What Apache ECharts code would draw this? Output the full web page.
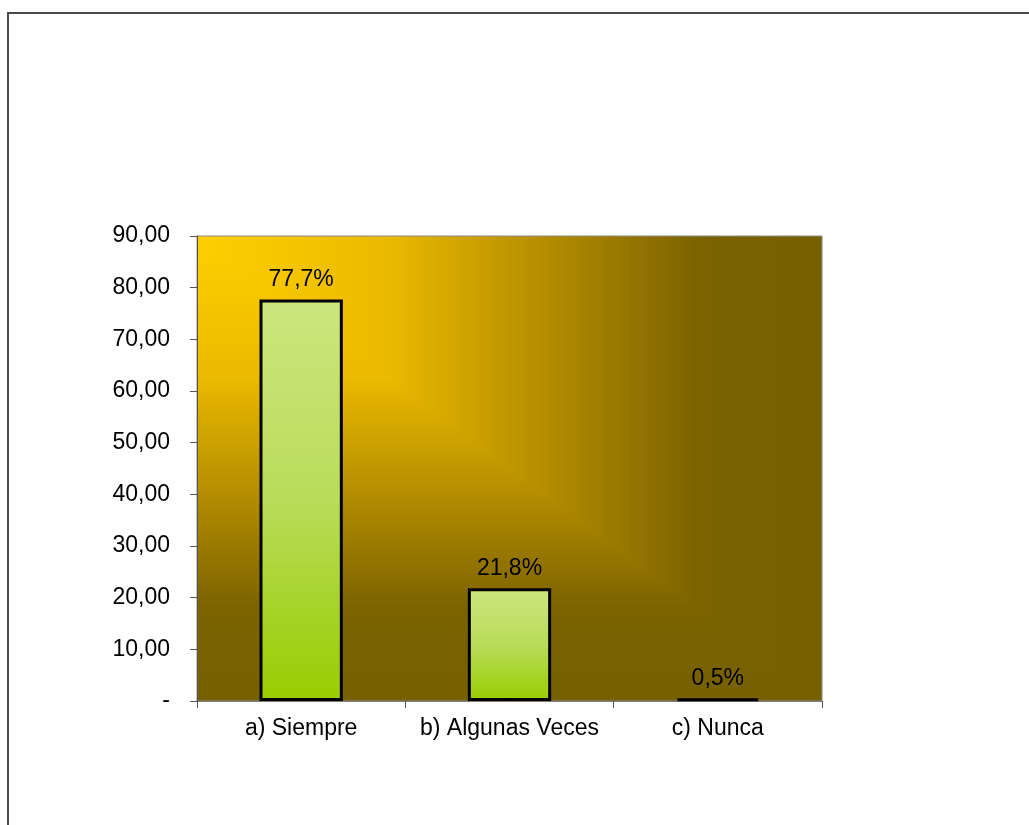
<!DOCTYPE html>
<html>
<head>
<meta charset="utf-8">
<script src="https://cdn.jsdelivr.net/npm/echarts@6/dist/echarts.min.js"></script>
<style>
html,body{margin:0;padding:0;background:#fff;}
#chart{width:1029px;height:825px;}
</style>
</head>
<body>
<div id="chart"></div>
<script>
const categories = ['a) Siempre', 'b) Algunas Veces', 'c) Nunca'];
const values = [77.7, 21.8, 0.5];
const yMin = 0, yMax = 90, yInterval = 10;

const G = {left: 197, top: 236, width: 625, height: 465};
const L = G.left, T = G.top, R = G.left + G.width, B = G.top + G.height;
const bgStops = [
  {offset: 0, color: '#FFCF00'},
  {offset: 0.3, color: '#EBBA00'},
  {offset: 0.52, color: '#BC9300'},
  {offset: 0.8, color: '#7C6300'},
  {offset: 1, color: '#766000'}
];

const chart = echarts.init(document.getElementById('chart'));
chart.setOption({
  animation: false,
  textStyle: {fontFamily: 'Liberation Sans, Arial, sans-serif'},
  graphic: [
    {type: 'rect', z: -5, shape: {x: 8, y: 13, width: 1200, height: 1000},
     style: {fill: '#fff', stroke: '#4a4a4a', lineWidth: 2}},
    {type: 'rect', z: -3, shape: {x: L, y: T, width: G.width, height: G.height},
     style: {fill: new echarts.graphic.LinearGradient(0, 0, 0, 1, bgStops)}},
    {type: 'polygon', z: -2, shape: {points: [[L, T], [R, T], [R, B]]},
     style: {fill: new echarts.graphic.LinearGradient(0, 0, 1, 0, bgStops)}}
  ],
  grid: {left: G.left, top: G.top, width: G.width, height: G.height,
         show: true, borderColor: '#8a8a8a', borderWidth: 1, backgroundColor: 'transparent'},
  xAxis: {
    type: 'category',
    data: categories,
    axisLine: {lineStyle: {color: '#7a7a7a', width: 1}},
    axisTick: {show: true, alignWithLabel: false, interval: 0, length: 7, lineStyle: {color: '#555'}},
    axisLabel: {color: '#000', fontSize: 23, margin: 16, interval: 0}
  },
  yAxis: {
    type: 'value',
    min: yMin, max: yMax, interval: yInterval,
    splitLine: {show: false},
    axisLine: {show: true, lineStyle: {color: '#555', width: 1}},
    axisTick: {show: true, length: 7, lineStyle: {color: '#555'}},
    axisLabel: {color: '#000', fontSize: 23, margin: 27,
      formatter: v => v === 0 ? '-' : v.toFixed(2).replace('.', ',')}
  },
  series: [{
    type: 'bar',
    data: values,
    barCategoryGap: '60%',
    itemStyle: {
      color: new echarts.graphic.LinearGradient(0, 0, 0, 1, [
        {offset: 0, color: '#CCE67E'},
        {offset: 0.5, color: '#B9DC5A'},
        {offset: 1, color: '#99CC00'}
      ]),
      borderColor: '#000',
      borderWidth: 3
    },
    label: {
      show: true, position: 'top', distance: 8,
      color: '#000', fontSize: 23,
      formatter: p => p.value.toFixed(1).replace('.', ',') + '%'
    }
  }]
});
</script>
</body>
</html>
